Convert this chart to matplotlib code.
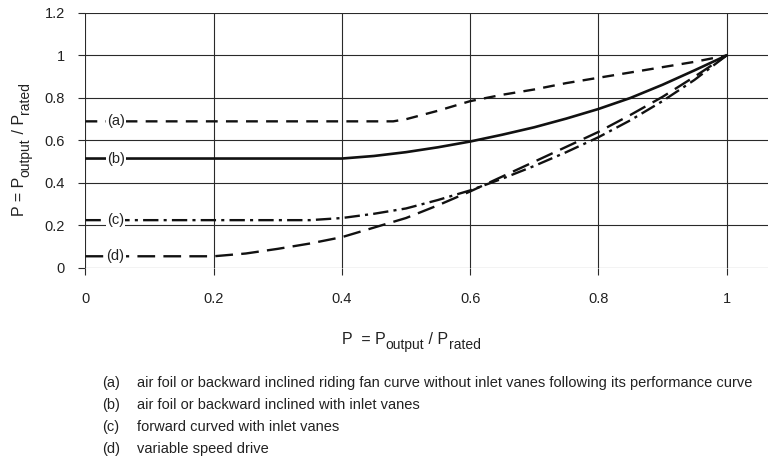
import matplotlib
matplotlib.use("Agg")
import matplotlib.pyplot as plt

plt.rcParams['font.family'] = ['Liberation Sans', 'DejaVu Sans']

# curve data
x_a = [0, 0.48, 0.5, 0.55, 0.6, 0.65, 0.7, 0.75, 0.8, 0.85, 0.9, 0.95, 1.0]
y_a = [0.69, 0.69, 0.70, 0.74, 0.785, 0.815, 0.84, 0.87, 0.895, 0.92, 0.945, 0.97, 1.0]

x_b = [0, 0.4, 0.45, 0.5, 0.55, 0.6, 0.65, 0.7, 0.75, 0.8, 0.85, 0.9, 0.95, 1.0]
y_b = [0.515, 0.515, 0.527, 0.545, 0.568, 0.595, 0.627, 0.662, 0.703, 0.748, 0.80, 0.862, 0.93, 1.0]

x_c = [0, 0.35, 0.4, 0.45, 0.5, 0.55, 0.6, 0.65, 0.7, 0.75, 0.8, 0.85, 0.9, 0.95, 1.0]
y_c = [0.225, 0.225, 0.235, 0.255, 0.28, 0.32, 0.365, 0.42, 0.48, 0.545, 0.615, 0.695, 0.785, 0.885, 1.0]

x_d = [0, 0.2, 0.25, 0.3, 0.35, 0.4, 0.45, 0.5, 0.55, 0.6, 0.65, 0.7, 0.75, 0.8, 0.85, 0.9, 0.95, 1.0]
y_d = [0.055, 0.055, 0.068, 0.09, 0.115, 0.145, 0.19, 0.235, 0.295, 0.36, 0.43, 0.5, 0.57, 0.64, 0.72, 0.805, 0.9, 1.0]

curve_tags = ['(a)', '(b)', '(c)', '(d)']
notes = [
    'air foil or backward inclined riding fan curve without inlet vanes following its performance curve',
    'air foil or backward inclined with inlet vanes',
    'forward curved with inlet vanes',
    'variable speed drive',
]
xticks = [0, 0.2, 0.4, 0.6, 0.8, 1.0]
xticklabels = ['0', '0.2', '0.4', '0.6', '0.8', '1']
yticks = [0, 0.2, 0.4, 0.6, 0.8, 1.0, 1.2]
yticklabels = ['0', '0.2', '0.4', '0.6', '0.8', '1', '1.2']

FS = 10.5
LAB = 11.5
SUB = 10
TXT = '#222'


def sub_label(ax, x, y, parts, vertical=False):
    """Chain text pieces so subscripts sit slightly lower, like the original."""
    first = None
    prev = None
    for text, kind in parts:
        size = {'main': LAB, 'sub': SUB, 'slash': 10}[kind]
        if first is None:
            if vertical:
                first = ax.annotate(text, (x, y), xycoords='figure fraction', rotation=90,
                                    ha='right', va='bottom', fontsize=size, color=TXT,
                                    annotation_clip=False)
            else:
                first = ax.annotate(text, (x, y), xycoords='figure fraction',
                                    ha='left', va='bottom', fontsize=size, color=TXT,
                                    annotation_clip=False)
            prev = first
            continue
        shift = 3.6 if kind == 'sub' else 0
        if vertical:
            prev = ax.annotate(text, (1, 1), xycoords=(first, prev), rotation=90,
                               xytext=(shift, 0), textcoords='offset points',
                               ha='right', va='bottom', fontsize=size, color=TXT,
                               annotation_clip=False)
        else:
            prev = ax.annotate(text, (1, 0), xycoords=(prev, first),
                               xytext=(0, -shift), textcoords='offset points',
                               ha='left', va='bottom', fontsize=size, color=TXT,
                               annotation_clip=False)


fig = plt.figure(figsize=(7.68, 4.62), dpi=100)
ax = fig.add_axes([0.1113, 0.42, 0.8887, 0.5519])

ink = '#111111'
ax.plot(x_a, y_a, color=ink, lw=1.7, linestyle=(0, (5, 3.5)), zorder=3)
ax.plot(x_b, y_b, color=ink, lw=1.9, linestyle='-', zorder=3)
ax.plot(x_c, y_c, color=ink, lw=1.7, linestyle=(0, (6.5, 2.2, 1.3, 2.2)), zorder=3)
ax.plot(x_d, y_d, color=ink, lw=1.7, linestyle=(0, (7.5, 3.5)), zorder=3)

# tags on the flat part of each curve
for tag, yy in zip(curve_tags, [y_a[0], y_b[0], y_c[0], y_d[0]]):
    ax.text(0.047, yy, tag, ha='center', va='center', fontsize=FS, color=TXT,
            bbox=dict(facecolor='white', edgecolor='none', pad=0.8), zorder=4)

ax.set_xlim(0, 1.0647)
ax.set_ylim(0, 1.2)
ax.set_xticks(xticks)
ax.set_xticklabels(xticklabels)
ax.set_yticks(yticks)
ax.set_yticklabels(yticklabels)
ax.grid(True, color='#2a2a2a', lw=0.8)
ax.tick_params(direction='out', length=5, width=0.8, color='#2a2a2a',
               labelsize=FS, labelcolor=TXT, pad=12)
ax.tick_params(axis='y', pad=10)
for s in ax.spines.values():
    s.set_visible(False)

sub_label(ax, 27 / 768, 1 - 216 / 462,
          [('P = P', 'main'), ('output', 'sub'), (' / P', 'main'), ('rated', 'sub')], vertical=True)
sub_label(ax, 342 / 768, 1 - 347 / 462,
          [('P  = P', 'main'), ('output', 'sub'), (' / P', 'main'), ('rated', 'sub')])

rows_y = [383, 405, 427, 449]
for tag, note, yy in zip(curve_tags, notes, rows_y):
    fig.text(102 / 768, 1 - yy / 462, tag, ha='left', va='center', fontsize=FS, color=TXT)
    fig.text(137 / 768, 1 - yy / 462, note, ha='left', va='center', fontsize=FS, color=TXT)

fig.savefig('out.png', dpi=100, facecolor='white')
